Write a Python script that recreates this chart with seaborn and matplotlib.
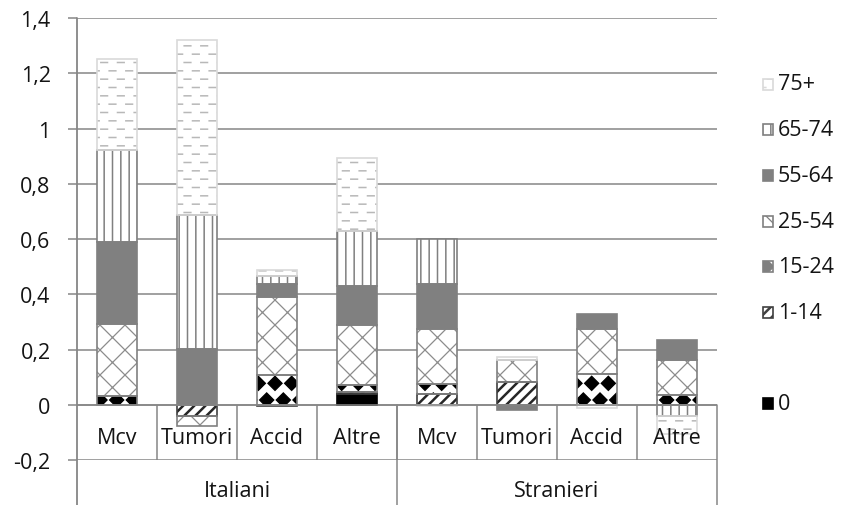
import numpy as np
import matplotlib
matplotlib.use('Agg')
import matplotlib.pyplot as plt
import matplotlib.hatch as mhatch
from matplotlib.path import Path
from matplotlib.patches import Rectangle
import seaborn as sns

groups = ['Italiani', 'Stranieri']
causes = ['Mcv', 'Tumori', 'Accid', 'Altre']
ages = ['0', '1-14', '15-24', '25-54', '55-64', '65-74', '75+']

# one value per bar: Italiani Mcv, Tumori, Accid, Altre, then Stranieri the same
age_0 = [0.0, 0.0, 0.0, 0.04, 0.0, 0.0, 0.0, 0.0]
age_1_14 = [0.0, -0.04, -0.005, 0.005, 0.04, 0.082, 0.0, 0.0]
age_15_24 = [0.03, 0.0, 0.109, 0.025, 0.036, 0.0, 0.112, 0.034]
age_25_54 = [0.263, -0.036, 0.281, 0.217, 0.199, 0.079, 0.163, 0.129]
age_55_64 = [0.296, 0.203, 0.048, 0.142, 0.163, -0.02, 0.053, 0.07]
age_65_74 = [0.332, 0.483, 0.028, 0.201, 0.161, 0.0, 0.0, -0.04]
age_75 = [0.33, 0.634, 0.021, 0.264, -0.005, 0.012, -0.012, -0.065]

yticks = [-0.2, 0, 0.2, 0.4, 0.6, 0.8, 1.0, 1.2, 1.4]
ytick_labels = ['-0,2', '0', '0,2', '0,4', '0,6', '0,8', '1', '1,2', '1,4']

series = [age_0, age_1_14, age_15_24, age_25_54, age_55_64, age_65_74, age_75]


# excel-like patterns: dashed rows ('o'), fine crosshatch ('O'), diamonds ('*')
class Dashes(mhatch.HatchPatternBase):
    def __init__(self, hatch, density):
        n = hatch.count('o')
        self.num_rows = int(n * density * 2)
        self.per_row = int(n * density)
        self.num_vertices = self.num_rows * self.per_row * 2

    def set_vertices_and_codes(self, vertices, codes):
        k = 0
        for r in range(self.num_rows):
            y = (r + 0.5) / self.num_rows
            off = 0.5 if r % 2 else 0.0
            for c in range(self.per_row):
                x0 = (c + off + 0.05) / self.per_row
                vertices[k] = (x0, y)
                vertices[k + 1] = (x0 + 0.4 / self.per_row, y)
                codes[k] = Path.MOVETO
                codes[k + 1] = Path.LINETO
                k += 2


class Cross(mhatch.HatchPatternBase):
    def __init__(self, hatch, density):
        self.num_lines = hatch.count('O') * 8
        self.num_vertices = (self.num_lines + 1) * 4 if self.num_lines else 0

    def set_vertices_and_codes(self, vertices, codes):
        steps = np.linspace(-0.5, 0.5, self.num_lines + 1)
        n = self.num_lines + 1
        v1 = vertices[:2 * n]
        v2 = vertices[2 * n:]
        v1[0::2, 0] = steps
        v1[0::2, 1] = -steps
        v1[1::2, 0] = 1.0 + steps
        v1[1::2, 1] = 1.0 - steps
        v2[0::2, 0] = steps
        v2[0::2, 1] = 1.0 + steps
        v2[1::2, 0] = 1.0 + steps
        v2[1::2, 1] = steps
        codes[0::2] = Path.MOVETO
        codes[1::2] = Path.LINETO


class Diamonds(mhatch.Shapes):
    size = 0.42
    filled = True

    def __init__(self, hatch, density):
        self.num_rows = hatch.count('*') * density
        self.shape_vertices = np.array([[0, 1], [1, 0], [0, -1], [-1, 0], [0, 1]], float)
        self.shape_codes = np.array([Path.MOVETO, Path.LINETO, Path.LINETO, Path.LINETO, Path.CLOSEPOLY],
                                    dtype=Path.code_type)
        super().__init__(hatch, density)


mhatch._hatch_types[mhatch._hatch_types.index(mhatch.SmallCircles)] = Dashes
mhatch._hatch_types[mhatch._hatch_types.index(mhatch.LargeCircles)] = Cross
mhatch._hatch_types[mhatch._hatch_types.index(mhatch.Stars)] = Diamonds

styles = {
    '0': {'face': 'black', 'hatch': None, 'hc': 'black', 'border': 'black', 'hlw': 1.0},
    '1-14': {'face': 'white', 'hatch': '///', 'hc': '#262626', 'border': '#404040', 'hlw': 1.8},
    '15-24': {'face': 'white', 'hatch': '*', 'hc': 'black', 'border': '#808080', 'hlw': 1.0},
    '25-54': {'face': 'white', 'hatch': 'O', 'hc': '#8c8c8c', 'border': '#808080', 'hlw': 0.9},
    '55-64': {'face': '#808080', 'hatch': None, 'hc': '#808080', 'border': '#808080', 'hlw': 1.0},
    '65-74': {'face': 'white', 'hatch': '||', 'hc': '#808080', 'border': '#808080', 'hlw': 1.1},
    '75+': {'face': 'white', 'hatch': 'o', 'hc': '#b8b8b8', 'border': '#d9d9d9', 'hlw': 1.1},
}

sns.set_theme(style='white')
plt.rcParams['font.family'] = ['Open Sans', 'DejaVu Sans']
grid_c = '#868686'
text_c = '#141414'
fs = 15.5

W, H = 849, 506
fig = plt.figure(figsize=(W / 100, H / 100), dpi=100)
ax = fig.add_axes([77 / W, 45 / H, 640 / W, 442 / H])
ax.set_xlim(0, 8)
ax.set_ylim(-0.2, 1.4)
for s in ax.spines.values():
    s.set_visible(False)

ax.set_yticks(yticks)
ax.set_yticklabels(ytick_labels)
ax.tick_params(axis='y', length=6.5, width=1.1, color=grid_c, pad=12.5, labelsize=fs,
               labelcolor=text_c, left=True)
ax.set_xticks([])
ax.yaxis.grid(True, color=grid_c, lw=1.1)
ax.set_axisbelow(True)

x = np.arange(8) + 0.5
width = 0.49
pos_base = np.zeros(8)
neg_base = np.zeros(8)
for age, vals in zip(ages, series):
    v = np.array(vals)
    st = styles[age]
    m = v != 0
    bottom = np.where(v >= 0, pos_base, neg_base)
    with plt.rc_context({'hatch.linewidth': st['hlw']}):
        bars = ax.bar(x[m], v[m], width, bottom=bottom[m], color=st['face'], hatch=st['hatch'],
                      edgecolor=st['hc'], linewidth=0, zorder=2)
    for b in bars:
        if hasattr(b, 'set_hatch_linewidth'):
            b.set_hatch_linewidth(st['hlw'])
    ax.bar(x[m], v[m], width, bottom=bottom[m], fill=False, edgecolor=st['border'],
           linewidth=1.2, zorder=2.5)
    pos_base += np.clip(v, 0, None)
    neg_base += np.clip(v, None, 0)

# category axis table
ax.axhline(0, color=grid_c, lw=1.1, zorder=3)
ax.vlines(np.arange(1, 8), -0.2, 0, color=grid_c, lw=1.1, zorder=3)
low = -45 / 442
ax.plot([0, 0], [low, 1], transform=ax.transAxes, color=grid_c, lw=1.3, clip_on=False, zorder=3)
ax.plot([0.5, 0.5], [low, 0.125], transform=ax.transAxes, color=grid_c, lw=1.1, clip_on=False, zorder=3)
ax.plot([1, 1], [low, 0.125], transform=ax.transAxes, color=grid_c, lw=1.1, clip_on=False, zorder=3)

labels = causes * len(groups)
for xi, lab in zip(x, labels):
    ax.text(xi, -0.117, lab, ha='center', va='center', fontsize=fs, color=text_c, zorder=5)
for gi, g in enumerate(groups):
    ax.text(0.25 + 0.5 * gi, -31 / 442, g, transform=ax.transAxes, ha='center', va='center',
            fontsize=fs, color=text_c)

# legend, top to bottom (an empty slot before '0', as in the original)
legend_order = ['75+', '65-74', '55-64', '25-54', '15-24', '1-14', None, '0']
for i, age in enumerate(legend_order):
    if age is None:
        continue
    yc = 85 + i * 45.7
    st = styles[age]
    with plt.rc_context({'hatch.linewidth': st['hlw']}):
        r = Rectangle((763 / W, 1 - (yc + 5.5) / H), 10 / W, 11 / H, transform=fig.transFigure,
                      facecolor=st['face'], hatch=st['hatch'], edgecolor=st['border'], lw=1.2)
    if hasattr(r, 'set_hatch_linewidth'):
        r.set_hatch_linewidth(st['hlw'])
    fig.add_artist(r)
    fig.text(778 / W, 1 - yc / H, age, ha='left', va='center', fontsize=fs, color=text_c)

fig.savefig('out.png', dpi=100, facecolor='white')
